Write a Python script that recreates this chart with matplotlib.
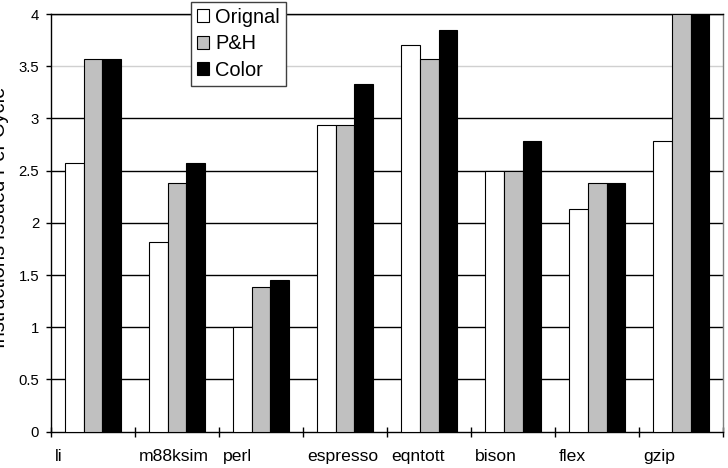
import numpy as np
import matplotlib
matplotlib.use('Agg')
import matplotlib.pyplot as plt
from matplotlib.transforms import ScaledTranslation

plt.rcParams['font.family'] = ['Liberation Sans', 'DejaVu Sans']

benchmarks = ['li', 'm88ksim', 'perl', 'espresso', 'eqntott', 'bison', 'flex', 'gzip']
series_names = ['Orignal', 'P&H', 'Color']
orignal = [2.57, 1.82, 1.00, 2.94, 3.70, 2.50, 2.13, 2.78]
p_and_h = [3.57, 2.38, 1.39, 2.94, 3.57, 2.50, 2.38, 4.00]
color = [3.57, 2.57, 1.45, 3.33, 3.85, 2.78, 2.38, 4.00]
y_ticks = [0, 0.5, 1, 1.5, 2, 2.5, 3, 3.5, 4]
y_tick_labels = ['0', '0.5', '1', '1.5', '2', '2.5', '3', '3.5', '4']

fig = plt.figure(figsize=(7.28, 4.68), dpi=100)
ax = fig.add_axes([51 / 728, 1 - 431.7 / 468, 672.3 / 728, 417.7 / 468])

n = len(benchmarks)
x = np.arange(n)
bar_w = 2 / 9
gap = 1 / 6
fills = ['white', '#c0c0c0', 'black']
for k, (vals, name, fc) in enumerate(zip([orignal, p_and_h, color], series_names, fills)):
    ax.bar(x + gap + bar_w / 2 + k * bar_w, vals, width=bar_w, color=fc,
           edgecolor='black', linewidth=0.8, label=name, zorder=3)

# gridlines (the 3.5 line is pale in the original)
for yv in y_ticks[1:]:
    c = '#d0d0d0' if yv == 3.5 else 'black'
    ax.axhline(yv, color=c, linewidth=1, zorder=1)

ax.set_xlim(0, n)
ax.set_ylim(0, 4)
ax.set_yticks(y_ticks)
ax.set_yticklabels(y_tick_labels)
ax.tick_params(axis='y', direction='out', length=3.3, width=1, pad=5.3,
               labelsize=10.7, color='black')

ax.set_xticks(np.arange(n + 1))
ax.set_xticklabels(benchmarks + [''], ha='left')
ax.tick_params(axis='x', direction='inout', length=7.5, width=1, pad=9,
               labelsize=12.6)
offset = ScaledTranslation(4 / 100, 0, fig.dpi_scale_trans)
for lbl in ax.get_xticklabels():
    lbl.set_transform(lbl.get_transform() + offset)

for side in ['left', 'bottom', 'top']:
    ax.spines[side].set_color('black')
    ax.spines[side].set_linewidth(1)
ax.spines['right'].set_color('#808080')
ax.spines['right'].set_linewidth(1)

fig.text(0 / 728, 1 - 217.5 / 468, 'Instructions Issued Per Cycle', rotation=90,
         ha='center', va='center', fontsize=14.5)

leg = ax.legend(loc='upper left', bbox_to_anchor=(190.7 / 728, 1 - 1.7 / 468),
                bbox_transform=fig.transFigure, borderaxespad=0, fancybox=False,
                edgecolor='#404040', framealpha=1, fontsize=14.4,
                handlelength=0.63, handleheight=0.6, handletextpad=0.3,
                labelspacing=0.38, borderpad=0.3)
leg.get_frame().set_linewidth(1)
leg.set_zorder(5)

fig.savefig('out.png', dpi=100)
